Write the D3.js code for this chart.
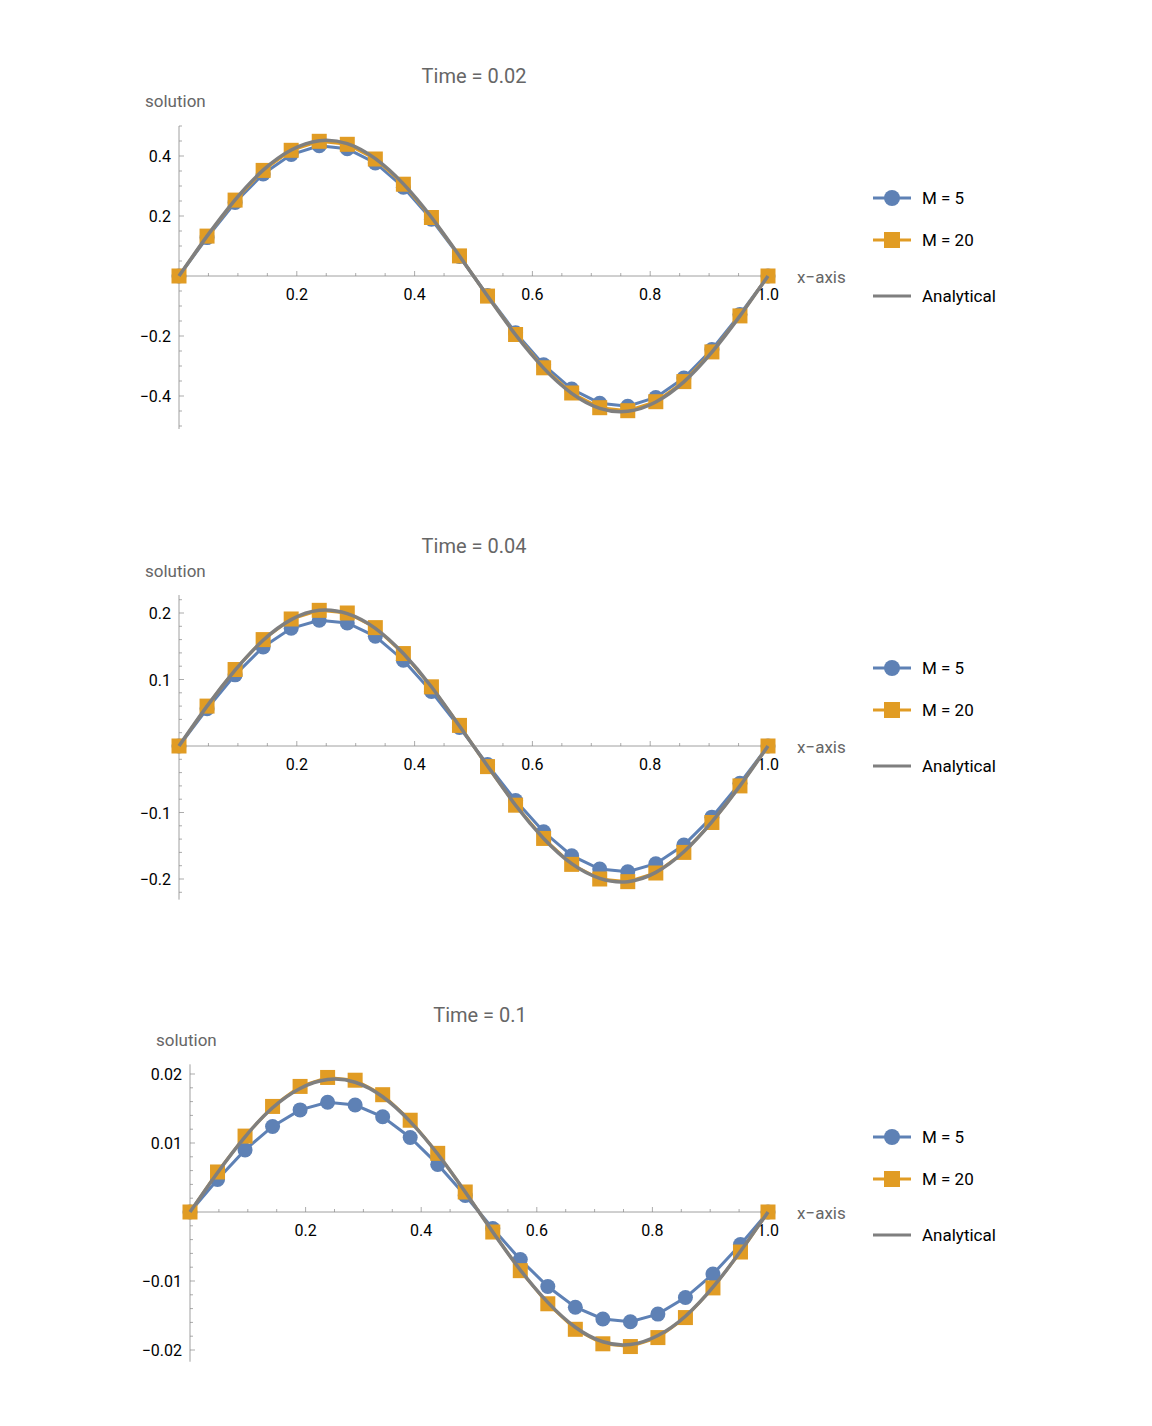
<!DOCTYPE html>
<html><head><meta charset="utf-8">
<script src="https://cdn.jsdelivr.net/npm/d3@7"></script>
<style>body{margin:0;background:#fff}text{font-family:Roboto,"Liberation Sans",sans-serif}</style>
</head><body>
<svg id="c" width="1152" height="1426"></svg>
<script>
const xs = d3.range(22).map(k => k/21);
const titles = ["Time = 0.02","Time = 0.04","Time = 0.1"];
const m5_1 = [0,0.128,0.245,0.340,0.405,0.434,0.424,0.377,0.296,0.189,0.065,-0.065,-0.189,-0.296,-0.377,-0.424,-0.434,-0.405,-0.340,-0.245,-0.128,0];
const m20_1 = [0,0.133,0.253,0.352,0.419,0.449,0.439,0.390,0.306,0.195,0.067,-0.067,-0.195,-0.306,-0.390,-0.439,-0.449,-0.419,-0.352,-0.253,-0.133,0];
const an_1 = [0,0.133,0.254,0.353,0.420,0.451,0.441,0.391,0.307,0.196,0.067,-0.067,-0.196,-0.307,-0.391,-0.441,-0.451,-0.420,-0.353,-0.254,-0.133,0];
const m5_2 = [0,0.056,0.107,0.149,0.177,0.189,0.185,0.165,0.129,0.082,0.028,-0.028,-0.082,-0.129,-0.165,-0.185,-0.189,-0.177,-0.149,-0.107,-0.056,0];
const m20_2 = [0,0.060,0.115,0.160,0.191,0.204,0.200,0.178,0.139,0.089,0.031,-0.031,-0.089,-0.139,-0.178,-0.200,-0.204,-0.191,-0.160,-0.115,-0.060,0];
const an_2 = [0,0.060,0.114,0.159,0.190,0.204,0.199,0.177,0.139,0.089,0.030,-0.030,-0.089,-0.139,-0.177,-0.199,-0.204,-0.190,-0.159,-0.114,-0.060,0];
const m5_3 = [0,0.0047,0.0090,0.0124,0.0148,0.0159,0.0155,0.0138,0.0108,0.0069,0.0024,-0.0024,-0.0069,-0.0108,-0.0138,-0.0155,-0.0159,-0.0148,-0.0124,-0.0090,-0.0047,0];
const m20_3 = [0,0.0058,0.0110,0.0153,0.0182,0.0195,0.0191,0.0170,0.0133,0.0085,0.0029,-0.0029,-0.0085,-0.0133,-0.0170,-0.0191,-0.0195,-0.0182,-0.0153,-0.0110,-0.0058,0];
const an_3 = [0,0.0057,0.0109,0.0151,0.0179,0.0192,0.0188,0.0167,0.0131,0.0084,0.0029,-0.0029,-0.0084,-0.0131,-0.0167,-0.0188,-0.0192,-0.0179,-0.0151,-0.0109,-0.0057,0];
const xTicks = [0.2,0.4,0.6,0.8,1.0];
const yTicks1 = [-0.4,-0.2,0.2,0.4], yTicks2=[-0.2,-0.1,0.1,0.2], yTicks3=[-0.02,-0.01,0.01,0.02];
const legendLabels = ["M = 5","M = 20","Analytical"];
const BLUE="#5E81B5", ORANGE="#E19C24", GRAY="#7F7F7F";

const panels = [
 {m5:m5_1,m20:m20_1,an:an_1,yt:yTicks1,ydom:[-0.51,0.5],x0:179,y0:276,ref:0.4,refpx:156,minor:0.05,fmt:d3.format(".1f"),titleX:474,top:0},
 {m5:m5_2,m20:m20_2,an:an_2,yt:yTicks2,ydom:[-0.231,0.227],x0:179,y0:746,ref:0.2,refpx:613,minor:0.02,fmt:d3.format(".1f"),titleX:474,top:470},
 {m5:m5_3,m20:m20_3,an:an_3,yt:yTicks3,ydom:[-0.0217,0.0214],x0:190,y0:1212,ref:0.02,refpx:1074,minor:0.002,fmt:d3.format(".2f"),titleX:480,top:939}
];
const svg = d3.select("#c");
panels.forEach((p,i)=>{
  const g = svg.append("g");
  const x = d3.scaleLinear().domain([0,1]).range([p.x0,768]);
  const y = d3.scaleLinear().domain([0,p.ref]).range([p.y0,p.refpx]);
  // axes
  g.append("line").attr("x1",x(0)).attr("x2",x(1)).attr("y1",y(0)).attr("y2",y(0)).attr("stroke","#888").attr("stroke-width",0.8);
  g.append("line").attr("x1",x(0)).attr("x2",x(0)).attr("y1",y(p.ydom[0])).attr("y2",y(p.ydom[1])).attr("stroke","#888").attr("stroke-width",0.8);
  d3.range(0.05,1.001,0.05).forEach(v=>{
    const maj = xTicks.some(t=>Math.abs(t-v)<1e-6);
    g.append("line").attr("x1",x(v)).attr("x2",x(v)).attr("y1",y(0)).attr("y2",y(0)-(maj?5:3)).attr("stroke","#888").attr("stroke-width",0.7);
  });
  xTicks.forEach(t=>g.append("text").attr("x",x(t)).attr("y",y(0)+24).attr("text-anchor","middle").attr("font-size",16).text(d3.format(".1f")(t)));
  const n0=Math.ceil(p.ydom[0]/p.minor-1e-6), n1=Math.floor(p.ydom[1]/p.minor+1e-6);
  for(let n=n0;n<=n1;n++){ const v=n*p.minor; if(n===0) continue;
    const maj=p.yt.some(t=>Math.abs(t-v)<1e-9);
    g.append("line").attr("x1",x(0)).attr("x2",x(0)+(maj?5:3)).attr("y1",y(v)).attr("y2",y(v)).attr("stroke","#888").attr("stroke-width",0.7);}
  p.yt.forEach(t=>g.append("text").attr("x",x(0)-8).attr("y",y(t)+6).attr("text-anchor","end").attr("font-size",16).text(p.fmt(t).replace("-","\u2212")));
  g.append("text").attr("x",797).attr("y",y(0)+7).attr("font-size",17).attr("fill","#666").text("x\u2212axis");
  g.append("text").attr("x",x(0)-34).attr("y",p.top+107).attr("font-size",17).attr("fill","#666").text("solution");
  g.append("text").attr("x",p.titleX).attr("y",p.top+83).attr("text-anchor","middle").attr("font-size",20).attr("fill","#666").text(titles[i]);
  const line = d3.line().x((d,k)=>x(xs[k])).y(d=>y(d));
  g.append("path").attr("d",line(p.m5)).attr("fill","none").attr("stroke",BLUE).attr("stroke-width",3);
  g.append("path").attr("d",line(p.m20)).attr("fill","none").attr("stroke",ORANGE).attr("stroke-width",3);
  g.selectAll(".c").data(p.m5).enter().append("circle").attr("cx",(d,k)=>x(xs[k])).attr("cy",d=>y(d)).attr("r",7.5).attr("fill",BLUE);
  g.selectAll(".s").data(p.m20).enter().append("rect").attr("x",(d,k)=>x(xs[k])-7.5).attr("y",d=>y(d)-7.5).attr("width",15).attr("height",15).attr("fill",ORANGE);
  g.append("path").attr("d",line.curve(d3.curveNatural)(p.an)).attr("fill","none").attr("stroke",GRAY).attr("stroke-width",3.5);
  // legend
  const ly = p.top+198;
  legendLabels.forEach((lab,j)=>{
    const yy = ly + j*42 + (j===2?14:0);
    const col=[BLUE,ORANGE,GRAY][j];
    g.append("line").attr("x1",873).attr("x2",911).attr("y1",yy).attr("y2",yy).attr("stroke",col).attr("stroke-width",3);
    if(j===0) g.append("circle").attr("cx",892).attr("cy",yy).attr("r",8).attr("fill",col);
    if(j===1) g.append("rect").attr("x",884).attr("y",yy-8).attr("width",16).attr("height",16).attr("fill",col);
    g.append("text").attr("x",922).attr("y",yy+6).attr("font-size",17).text(lab);
  });
});
</script>
</body></html>
